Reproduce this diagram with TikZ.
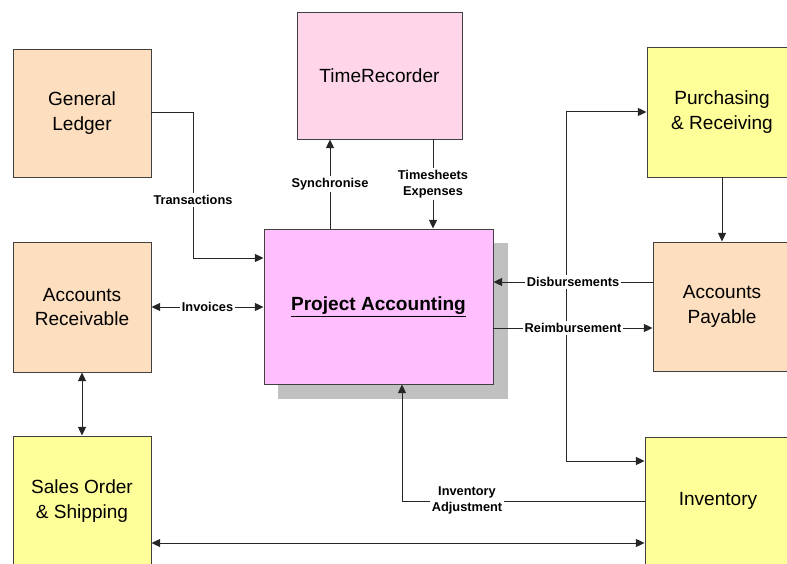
\documentclass[tikz,border=0pt]{standalone}
\usepackage{fontspec}
\setmainfont{Liberation Sans}
\usetikzlibrary{arrows.meta}
\definecolor{peach}{RGB}{253,222,190}
\definecolor{lpink}{RGB}{255,213,234}
\definecolor{mag}{RGB}{255,191,255}
\definecolor{lyel}{RGB}{255,255,153}
\definecolor{shad}{RGB}{192,192,192}
\definecolor{edge}{RGB}{64,64,64}
\tikzset{
  box/.style={draw=edge, line width=0.7pt, align=center, inner sep=0pt,
    font=\fontsize{14.3pt}{18.5pt}\selectfont},
  conn/.style={draw=black!85, line width=0.75pt},
  arr/.style={conn, -{Triangle[length=6.5pt,width=6pt]}},
  darr/.style={conn, {Triangle[length=6.5pt,width=6pt]}-{Triangle[length=6.5pt,width=6pt]}},
  lbl/.style={fill=white, inner sep=1.5pt, align=center,
    font=\bfseries\fontsize{9.6pt}{12pt}\selectfont}
}
\begin{document}
\begin{tikzpicture}[x=0.75pt,y=-0.75pt]
\useasboundingbox (0,0) rectangle (787,563);
\clip (0,0) rectangle (787,563);
% shadow
\fill[shad] (278,243) rectangle (508,399);
% boxes
\node[box, fill=peach, minimum width=138*0.75pt, minimum height=128*0.75pt] (GL) at (82,113) {General\\Ledger};
\node[box, fill=lpink, minimum width=165*0.75pt, minimum height=127*0.75pt] (TR) at (379.5,75.5) {TimeRecorder};
\node[box, fill=lyel, minimum width=150*0.75pt, minimum height=130*0.75pt] (PR) at (722,112) {Purchasing\\\& Receiving};
\node[box, fill=peach, minimum width=138*0.75pt, minimum height=130*0.75pt] (AR) at (82,307) {Accounts\\Receivable};
\node[box, fill=peach, minimum width=138*0.75pt, minimum height=129*0.75pt] (AP) at (722,306.5) {Accounts\\Payable};
\node[box, fill=mag, minimum width=229*0.75pt, minimum height=155*0.75pt] (PA) at (378.5,306.5) {\bfseries\underline{Project Accounting}};
\node[box, fill=lyel, minimum width=138*0.75pt, minimum height=130*0.75pt] (SO) at (82,501) {Sales Order\\\& Shipping};
\node[box, fill=lyel, minimum width=146*0.75pt, minimum height=128*0.75pt] (INV) at (718,501) {Inventory};
% connectors
\draw[arr] (GL.east) -| (193,258) -- (PA.west |- 0,258);
\draw[darr] (AR.east) -- (PA.west |- AR.east);
\draw[darr] (AR.south) -- (SO.north);
\draw[darr] (SO.east |- 0,543) -- (INV.west |- 0,543);
\draw[arr] (INV.west) -| (PA.south -| 402,0);
\draw[arr] (PA.north -| 330,0) -- (TR.south -| 330,0);
\draw[arr] (TR.south -| 433,0) -- (PA.north -| 433,0);
\coordinate (j) at (566,328);
\draw[arr] (j) |- (PR.west);
\draw[arr] (j) |- (INV.west |- 0,461);
\draw[arr] (AP.west |- 0,282) -- (PA.east |- 0,282);
\draw[arr] (PA.east |- 0,328) -- (AP.west |- 0,328);
\draw[arr] (PR.south) -- (AP.north);
% labels
\node[lbl] (lt) at (193,200) {Transactions};
\node[lbl] (li) at (207.5,307) {Invoices};
\node[lbl] (ls) at (330,184) {Synchronise};
\node[lbl] (lte) at (433,184) {Timesheets\\Expenses};
\node[lbl] (ld) at (573,282) {Disbursements};
\node[lbl] (lr) at (573,328) {Reimbursement};
\node[lbl] (lia) at (467,500) {Inventory\\Adjustment};
\end{tikzpicture}
\end{document}
